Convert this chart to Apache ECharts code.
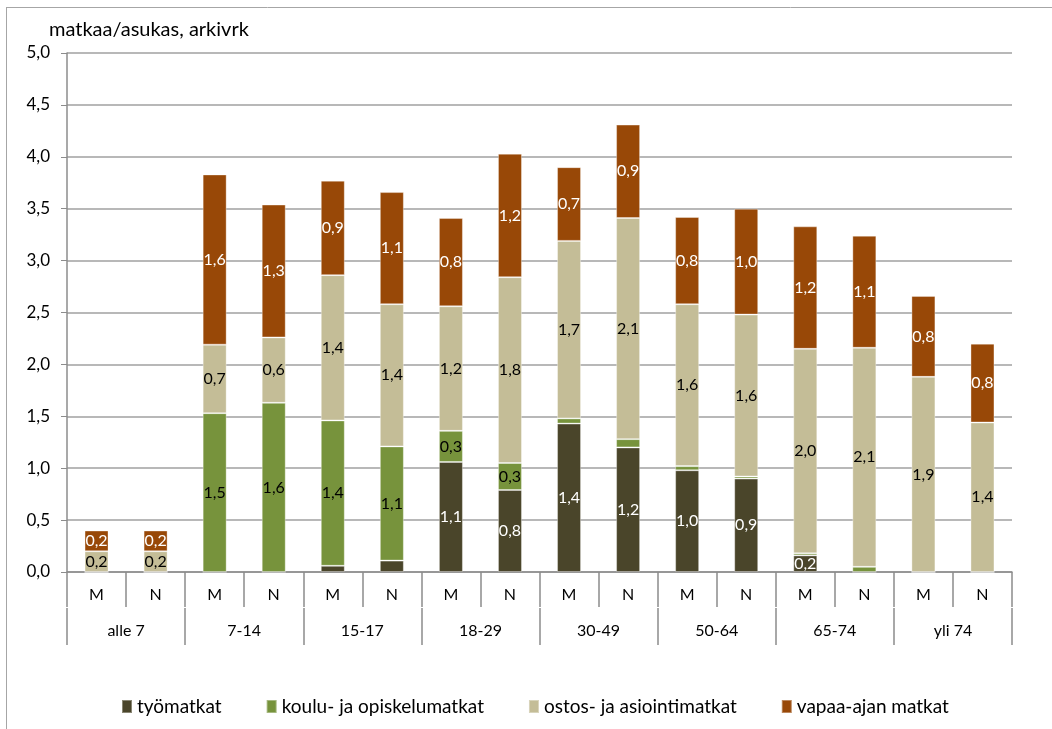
<!DOCTYPE html>
<html>
<head>
    <meta charset="utf-8">
    <title>Matkat ikäryhmittäin</title>
    <script src="https://cdn.jsdelivr.net/npm/echarts@6/dist/echarts.min.js"></script>
    <style>
        html, body { margin: 0; padding: 0; background: #fff; }
    </style>
</head>
<body>
    <div id="main" style="width: 1052px;height:729px;"></div>
    <script>
        // sukupuoli / ikäryhmä
        var sexes = ['M', 'N', 'M', 'N', 'M', 'N', 'M', 'N', 'M', 'N', 'M', 'N', 'M', 'N', 'M', 'N'];
        var ageGroups = ['alle 7', '7-14', '15-17', '18-29', '30-49', '50-64', '65-74', 'yli 74'];

        // matkaa/asukas, arkivrk
        var tyomatkat  = [0, 0, 0, 0, 0.06, 0.11, 1.06, 0.79, 1.43, 1.20, 0.98, 0.90, 0.16, 0, 0, 0];
        var koulu      = [0, 0, 1.53, 1.63, 1.40, 1.10, 0.30, 0.26, 0.05, 0.08, 0.04, 0.02, 0.02, 0.05, 0, 0];
        var ostos      = [0.2, 0.2, 0.66, 0.63, 1.40, 1.37, 1.20, 1.79, 1.71, 2.13, 1.56, 1.56, 1.97, 2.11, 1.88, 1.44];
        var vapaaAika  = [0.2, 0.2, 1.64, 1.28, 0.91, 1.08, 0.85, 1.19, 0.71, 0.90, 0.84, 1.02, 1.18, 1.08, 0.78, 0.76];

        var FONT = 'Lato, "Liberation Sans", sans-serif';
        var chartDom = document.getElementById('main');
        var myChart = echarts.init(chartDom);

        function fmt(v) {
            return v.toFixed(1).replace('.', ',');
        }

        function bar(name, data, color, labelColor) {
            return {
                name: name,
                type: 'bar',
                stack: 'matkat',
                data: data,
                barWidth: 24,
                itemStyle: { color: color, borderColor: 'rgba(255,255,255,0.35)', borderWidth: 1 },
                label: {
                    show: true,
                    position: 'inside',
                    color: labelColor,
                    fontFamily: FONT,
                    fontSize: 16,
                    formatter: function (p) {
                        return p.value >= 0.15 ? fmt(p.value) : '';
                    }
                }
            };
        }

        var option = {
            animation: false,
            textStyle: { fontFamily: FONT },
            title: {
                text: 'matkaa/asukas, arkivrk',
                left: 44,
                top: 15,
                textStyle: { fontFamily: FONT, fontSize: 20, fontWeight: 'normal', color: '#000' }
            },
            graphic: [
                { type: 'line', shape: { x1: 6, y1: 7.5, x2: 1052, y2: 7.5 }, style: { stroke: '#a6a6a6', lineWidth: 1 } },
                { type: 'line', shape: { x1: 6.5, y1: 7, x2: 6.5, y2: 729 }, style: { stroke: '#a6a6a6', lineWidth: 1 } }
            ],
            legend: {
                top: 692,
                left: 116,
                icon: 'rect',
                itemWidth: 10,
                itemHeight: 13,
                itemGap: 44,
                textStyle: { fontFamily: FONT, fontSize: 19, color: '#000' },
                data: ['työmatkat', 'koulu- ja opiskelumatkat', 'ostos- ja asiointimatkat', 'vapaa-ajan matkat']
            },
            grid: {
                left: 67,
                right: 40,
                top: 53,
                bottom: 157
            },
            xAxis: [
                {
                    type: 'category',
                    data: sexes,
                    position: 'bottom',
                    axisLine: { lineStyle: { color: '#8c8c8c', width: 1.5 } },
                    axisTick: { show: true, interval: 0, length: 35, lineStyle: { color: '#8c8c8c', width: 1.5 } },
                    axisLabel: { interval: 0, margin: 15, fontSize: 16, color: '#000', fontFamily: FONT }
                },
                {
                    type: 'category',
                    data: ageGroups,
                    position: 'bottom',
                    offset: 36,
                    axisLine: { show: false },
                    axisTick: { show: true, interval: 0, length: 37, lineStyle: { color: '#8c8c8c', width: 1.5 } },
                    axisLabel: { interval: 0, margin: 15, fontSize: 16, color: '#000', fontFamily: FONT }
                }
            ],
            yAxis: {
                type: 'value',
                min: 0,
                max: 5,
                interval: 0.5,
                axisLine: { show: true, lineStyle: { color: '#8c8c8c', width: 1.5 } },
                axisTick: { show: true, length: 6, lineStyle: { color: '#8c8c8c' } },
                splitLine: { lineStyle: { color: '#a0a0a0', width: 1.5 } },
                axisLabel: {
                    margin: 17,
                    fontSize: 17,
                    color: '#000',
                    fontFamily: FONT,
                    formatter: function (v) { return fmt(v); }
                }
            },
            series: [
                bar('työmatkat', tyomatkat, '#4a452a', '#fff'),
                bar('koulu- ja opiskelumatkat', koulu, '#77933c', '#000'),
                bar('ostos- ja asiointimatkat', ostos, '#c4bd97', '#000'),
                bar('vapaa-ajan matkat', vapaaAika, '#984807', '#fff')
            ]
        };

        myChart.setOption(option);
    </script>
</body>
</html>
